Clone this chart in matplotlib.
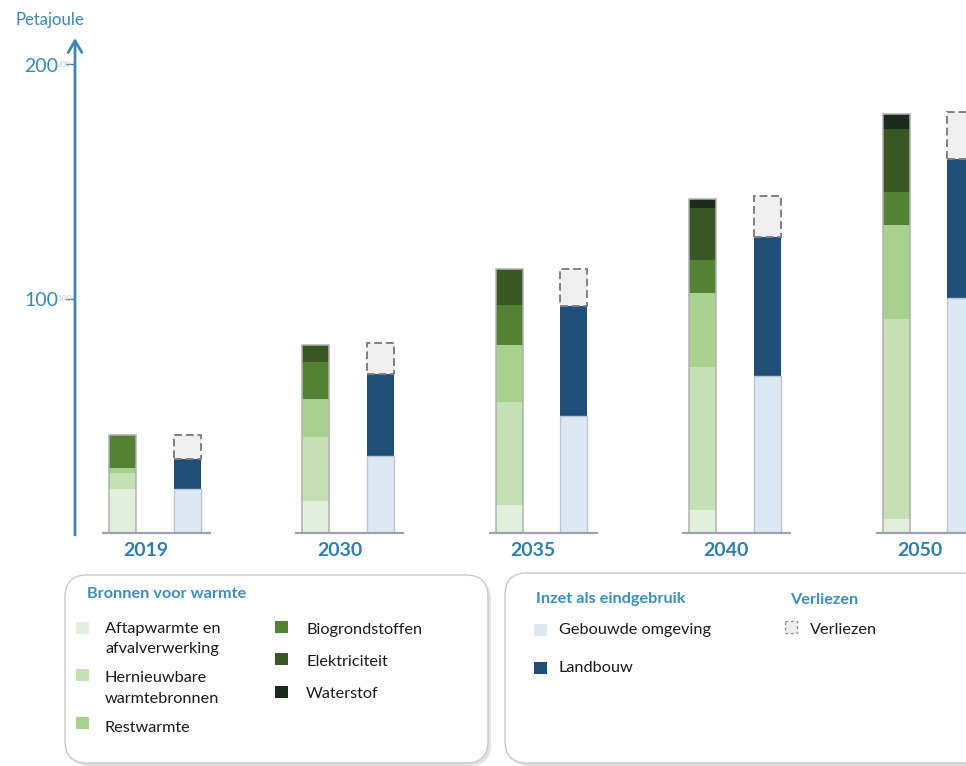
import matplotlib
matplotlib.use('Agg')
import matplotlib.pyplot as plt
from matplotlib.patches import FancyBboxPatch, Rectangle
import numpy as np

plt.rcParams['font.family'] = ['Lato', 'DejaVu Sans']

# ---------------- data ----------------
years = ['2019', '2030', '2035', '2040', '2050']

# Bronnen voor warmte (PJ)
aftapwarmte = [18.8, 13.5, 11.8, 9.6, 5.6]
hernieuwbaar = [6.8, 27.3, 44.1, 61.3, 85.6]
restwarmte = [2.1, 16.1, 24.2, 31.3, 40.2]
biogrondstoffen = [14.0, 16.1, 17.0, 14.3, 14.1]
elektriciteit = [0.0, 7.1, 15.4, 22.0, 26.9]
waterstof = [0.0, 0.0, 0.0, 4.0, 6.3]

# Inzet als eindgebruik (PJ)
gebouwde_omgeving = [18.7, 32.6, 49.8, 67.0, 100.1]
landbouw = [12.7, 35.3, 47.1, 59.4, 59.5]
verliezen = [10.4, 13.2, 15.7, 17.4, 20.1]

y_ticks = [100, 200]
y_label = 'Petajoule'

supply_names = ['Aftapwarmte en\nafvalverwerking', 'Hernieuwbare\nwarmtebronnen', 'Restwarmte',
                'Biogrondstoffen', 'Elektriciteit', 'Waterstof']
supply_colors = ['#e2efda', '#c5e0b4', '#a9d18e', '#548235', '#385723', '#1b2b1d']
use_names = ['Gebouwde omgeving', 'Landbouw']
use_colors = ['#dde8f5', '#1f4e79']
loss_name = 'Verliezen'
loss_color = '#efefef'

axis_col = '#3a87b5'
title_col = '#3a8dc1'
text_col = '#1a1a1a'

# ---------------- figure ----------------
W, H = 966, 766
fig = plt.figure(figsize=(W / 100, H / 100), dpi=100)
base_px, top_px, left_px = 532.5, 38, 75
ax = fig.add_axes([left_px / W, (H - base_px) / H, 1 - left_px / W, (base_px - top_px) / H])
ax.set_xlim(-0.4124, 4.1947)
ax.set_ylim(0, (base_px - top_px) / 2.34)
for s in ax.spines.values():
    s.set_visible(False)

x = np.arange(len(years))
off = 0.1668
w = 0.1396

# supply bars
bottom = np.zeros(len(years))
for vals, col in zip([aftapwarmte, hernieuwbaar, restwarmte, biogrondstoffen, elektriciteit, waterstof],
                     supply_colors):
    v = np.array(vals)
    ax.bar(x - off, v, w, bottom=bottom, color=col, linewidth=0, zorder=2)
    bottom += v
ax.bar(x - off, bottom, w, fill=False, edgecolor='#b0b0b0', linewidth=1.1, zorder=3)

# use bars
ub = np.zeros(len(years))
for vals, col in zip([gebouwde_omgeving, landbouw], use_colors):
    v = np.array(vals)
    ax.bar(x + off, v, w, bottom=ub, color=col, linewidth=0, zorder=2)
    ub += v
ax.bar(x + off, np.array(gebouwde_omgeving), w, fill=False, edgecolor='#bcc6d2', linewidth=1.0, zorder=3)
ax.bar(x + off, np.array(verliezen), w, bottom=ub, color=loss_color, edgecolor='#808080',
       linewidth=1.4, linestyle=(0, (4, 2)), zorder=3)

# per-group baselines
ax.hlines(np.zeros(len(years)), x - 0.273, x + 0.291, color='#9aa3ad', linewidth=1.6, zorder=4, clip_on=False)

# year labels
for i, yr in enumerate(years):
    ax.text(i - 0.045, -0.036, yr, transform=ax.get_xaxis_transform(), ha='center', va='center',
            fontsize=14, fontweight='bold', color='#2e7fae')

# y axis with arrow
ax.annotate('', xy=(0, 1), xytext=(0, -0.005), xycoords='axes fraction',
            arrowprops=dict(arrowstyle='->,head_length=0.6,head_width=0.35', color=axis_col,
                            lw=2.0, mutation_scale=14, shrinkA=0, shrinkB=0))
ax.set_xticks([])
ax.set_yticks(y_ticks)
ax.set_yticklabels([str(t) for t in y_ticks])
ax.tick_params(axis='y', length=7, width=1, color=axis_col, labelcolor=axis_col, labelsize=14, pad=5)

# ---------------- overlay (pixel coordinates) ----------------
lax = fig.add_axes([0, 0, 1, 1])
lax.set_xlim(0, W)
lax.set_ylim(H, 0)
lax.axis('off')
lax.patch.set_visible(False)

lax.text(50, 20, y_label, ha='center', va='center', fontsize=12, color=axis_col)
for t in y_ticks:
    ypx = base_px - t * 2.34
    lax.text(57, ypx, str(t), ha='left', va='center', fontsize=6, color='#cfcfcf')


def box(x0, y0, w0, h0):
    sh = FancyBboxPatch((x0 + 3, y0 + 3), w0, h0, boxstyle='round,pad=0,rounding_size=22',
                        fc='#d6d6d6', ec='none', alpha=0.7)
    lax.add_patch(sh)
    p = FancyBboxPatch((x0, y0), w0, h0, boxstyle='round,pad=0,rounding_size=22',
                       fc='white', ec='#c9c9c9', lw=1.0)
    lax.add_patch(p)


box(65, 575, 423, 188)
box(505, 573, 520, 190)

fs = 11.7
lax.text(87, 598, 'Bronnen voor warmte', fontsize=fs, fontweight='bold', color=title_col, va='baseline')
# left column: first three supply series, right column: last three
col1 = [(76, 622, [633, 653]), (76, 669, [682, 703]), (76, 717, [732])]
col2 = [(275, 621, [634]), (275, 653, [666]), (275, 686, [698])]
for (mx, my, bls), name, col in zip(col1 + col2, supply_names, supply_colors):
    lax.add_patch(Rectangle((mx, my), 13, 12, fc=col, ec='none'))
    tx = mx + 29 if mx < 200 else mx + 31
    for line, bl in zip(name.split('\n'), bls):
        lax.text(tx, bl, line, fontsize=fs, color=text_col, va='baseline')

lax.text(536, 603, 'Inzet als eindgebruik', fontsize=fs, fontweight='bold', color=title_col, va='baseline')
lax.text(790, 604, 'Verliezen', fontsize=fs, fontweight='bold', color=title_col, va='baseline')
for (my, bl), name, col in zip([(624, 634), (662, 672)], use_names, use_colors):
    lax.add_patch(Rectangle((534, my), 13, 12, fc=col, ec='none'))
    lax.text(559, bl, name, fontsize=fs, color=text_col, va='baseline')
lax.add_patch(Rectangle((785, 621), 12, 12, fc=loss_color, ec='#909090', lw=1.0, ls=(0, (2, 2))))
lax.text(810, 634, loss_name, fontsize=fs, color=text_col, va='baseline')

fig.savefig('out.png', dpi=100)
